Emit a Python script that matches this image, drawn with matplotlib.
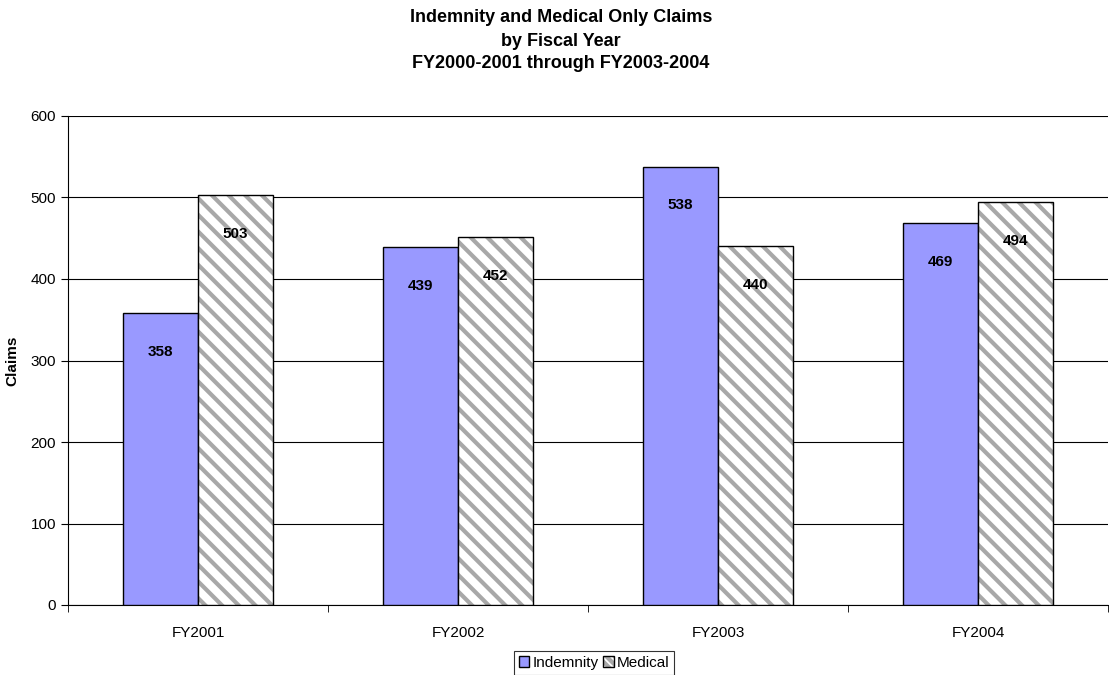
import matplotlib
matplotlib.use("Agg")
import matplotlib.pyplot as plt
from matplotlib.colors import to_rgba
import numpy as np

plt.rcParams['font.family'] = ['Liberation Sans', 'DejaVu Sans']
plt.rcParams['hatch.linewidth'] = 3.0

categories = ["FY2001", "FY2002", "FY2003", "FY2004"]
indemnity = [358, 439, 538, 469]
medical = [503, 452, 440, 494]

HATCH_GREY = to_rgba('#a8a8a8')

fig = plt.figure(figsize=(11.09, 6.75), dpi=100)
ax = fig.add_axes([68/1109, 1-605/675, 1040/1109, (605-116)/675])

x = np.arange(len(categories))
w = 0.29
b1 = ax.bar(x - w/2, indemnity, w, color='#9999ff', edgecolor='black', linewidth=1, label='Indemnity', zorder=3)
b2 = ax.bar(x + w/2, medical, w, color='white', edgecolor='black', linewidth=1, hatch='\\\\', label='Medical', zorder=3)
for r in b2:
    r._hatch_color = HATCH_GREY

for bars, vals in ((b1, indemnity), (b2, medical)):
    for r, v in zip(bars, vals):
        ax.annotate(str(v), (r.get_x() + r.get_width()/2, v), xytext=(0, -28),
                    textcoords='offset points', ha='center', va='center',
                    fontsize=11, fontweight='bold', zorder=4)

ax.set_xlim(-0.5, len(categories) - 0.5)
ax.set_ylim(0, 600)
ax.set_yticks(range(0, 601, 100))
ax.yaxis.grid(True, color='black', linewidth=0.8, zorder=0)
ax.set_axisbelow(True)
ax.set_xticks(x)
ax.set_xticklabels(categories, fontsize=11)
ax.tick_params(axis='x', length=0, pad=15)
ax.set_xticks(np.arange(-0.5, len(categories)), minor=True)
ax.tick_params(axis='x', which='minor', length=5, direction='out')
ax.tick_params(axis='y', labelsize=11, length=5, direction='out')
for s in ('top', 'right'):
    ax.spines[s].set_visible(False)
ax.set_ylabel('Claims', fontsize=11, fontweight='bold', labelpad=8)

tx = 561/1109
fig.text(tx, 1-18/675, 'Indemnity and Medical Only Claims', ha='center', va='center', fontsize=13, fontweight='bold')
fig.text(tx, 1-41/675, 'by Fiscal Year', ha='center', va='center', fontsize=13, fontweight='bold')
fig.text(tx, 1-63/675, 'FY2000-2001 through FY2003-2004', ha='center', va='center', fontsize=13, fontweight='bold')

leg = fig.legend(handles=[b1, b2], labels=['Indemnity', 'Medical'],
                 loc='center', bbox_to_anchor=(594/1109, 1-663/675), ncol=2,
                 fontsize=11, frameon=True, fancybox=False, edgecolor='black', handlelength=0.7,
                 handleheight=0.7, handletextpad=0.2, columnspacing=0.3, borderpad=0.3, borderaxespad=0)
leg.get_frame().set_linewidth(0.8)
for h in leg.legend_handles:
    if h.get_hatch():
        h._hatch_color = HATCH_GREY
        h.set_hatch('\\\\\\\\')

fig.savefig('out.png', dpi=100)
